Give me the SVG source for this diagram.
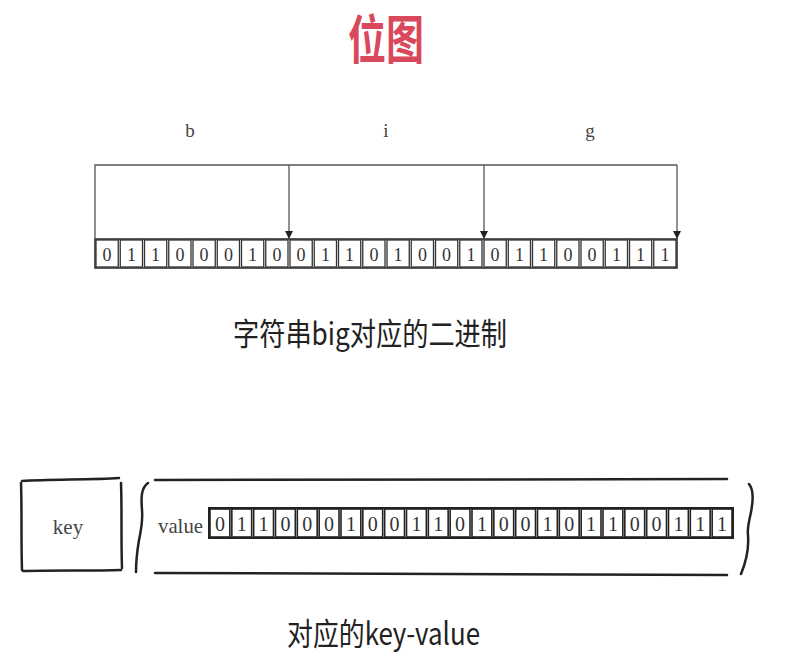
<svg xmlns="http://www.w3.org/2000/svg" width="790" height="669" viewBox="0 0 790 669">
<style>
.title{font-family:"Noto Sans CJK SC","Noto Sans",sans-serif;font-weight:700;fill:#d9485c}
.cap{font-family:"Noto Sans CJK SC","Noto Sans",sans-serif;fill:#222}
.lbl{font-family:"Liberation Serif",serif;fill:#444}
.bit{font-family:"Liberation Serif",serif;fill:#333;text-anchor:middle}
.cell{fill:#fff;stroke:#333;stroke-width:1.3}
.cellb{fill:#fff;stroke:#222;stroke-width:1.6}
.conn{fill:none;stroke:#555;stroke-width:1.3}
.hand{fill:none;stroke:#222;stroke-width:2.5;stroke-linecap:round;stroke-linejoin:round}
</style>
<defs>
<marker id="arr" viewBox="0 0 10 10" refX="10" refY="5" markerWidth="10" markerHeight="8" orient="auto" markerUnits="userSpaceOnUse">
<path d="M0,0 L10,5 L0,10 z" fill="#222"/>
</marker>
<rect id="c1" class="cell" x="1" y="1" width="22.25" height="27"/>
<rect id="c2" class="cellb" x="1" y="1" width="19.83" height="28"/>
</defs>
<rect width="790" height="669" fill="#fff"/>

<g id="title"><text class="title" x="386" y="59" font-size="52" text-anchor="middle" textLength="76" lengthAdjust="spacingAndGlyphs">位图</text></g>

<g id="char-labels">
<text class="lbl" x="190" y="137" font-size="19" text-anchor="middle">b</text>
<text class="lbl" x="386" y="137" font-size="19" text-anchor="middle">i</text>
<text class="lbl" x="590" y="137" font-size="19" text-anchor="middle">g</text>
</g>

<g id="bits-top">
<rect x="95" y="239" width="582" height="29" fill="none" stroke="#333" stroke-width="1.6"/>
<use href="#c1" x="95" y="239"/><use href="#c1" x="119.25" y="239"/><use href="#c1" x="143.5" y="239"/><use href="#c1" x="167.75" y="239"/>
<use href="#c1" x="192" y="239"/><use href="#c1" x="216.25" y="239"/><use href="#c1" x="240.5" y="239"/><use href="#c1" x="264.75" y="239"/>
<use href="#c1" x="289" y="239"/><use href="#c1" x="313.25" y="239"/><use href="#c1" x="337.5" y="239"/><use href="#c1" x="361.75" y="239"/>
<use href="#c1" x="386" y="239"/><use href="#c1" x="410.25" y="239"/><use href="#c1" x="434.5" y="239"/><use href="#c1" x="458.75" y="239"/>
<use href="#c1" x="483" y="239"/><use href="#c1" x="507.25" y="239"/><use href="#c1" x="531.5" y="239"/><use href="#c1" x="555.75" y="239"/>
<use href="#c1" x="580" y="239"/><use href="#c1" x="604.25" y="239"/><use href="#c1" x="628.5" y="239"/><use href="#c1" x="652.75" y="239"/>
<text class="bit" font-size="18" y="261" x="107.1 131.4 155.6 179.9 204.1 228.4 252.6 276.9 301.1 325.4 349.6 373.9 398.1 422.4 446.6 470.9 495.1 519.4 543.6 567.9 592.1 616.4 640.6 664.9">011000100110100101100111</text>
</g>

<g id="connectors">
<path class="conn" d="M95,239 L95,165 L677,165"/>
<path class="conn" d="M289,165 L289,239" marker-end="url(#arr)"/>
<path class="conn" d="M484,165 L484,239" marker-end="url(#arr)"/>
<path class="conn" d="M677,165 L677,239" marker-end="url(#arr)"/>
</g>

<g id="caption-binary"><text class="cap" x="233" y="345" font-size="31" textLength="274" lengthAdjust="spacingAndGlyphs">字符串big对应的二进制</text></g>

<g id="key">
<path class="hand" d="M22,481 C50,479 90,480 119,478"/>
<path class="hand" d="M121,483 C122,510 121,540 122,568"/>
<path class="hand" d="M23,571 C55,570 90,571 121,570"/>
<path class="hand" d="M21,483 C22,510 21,540 22,570"/>
<text class="lbl" x="68" y="534" font-size="21" text-anchor="middle" fill="#333">key</text>
</g>

<g id="value">
<path class="hand" d="M148,483 C141,488 141,498 142,510 C143,522 141,530 139,540 C137,552 136,562 136,572"/>
<path class="hand" d="M749,484 C754,490 753,502 751,512 C749,522 747,528 748,535 C749,548 746,562 741,574"/>
<path class="hand" d="M155,480 L727,479" stroke-width="3"/>
<path class="hand" d="M155,573 L727,575" stroke-width="3"/>
<text class="lbl" x="158" y="533" font-size="21" fill="#333" textLength="45" lengthAdjust="spacingAndGlyphs">value</text>
<rect x="209" y="508" width="524" height="30" fill="none" stroke="#222" stroke-width="2"/>
<use href="#c2" x="209" y="508"/><use href="#c2" x="230.83" y="508"/><use href="#c2" x="252.67" y="508"/><use href="#c2" x="274.5" y="508"/>
<use href="#c2" x="296.33" y="508"/><use href="#c2" x="318.17" y="508"/><use href="#c2" x="340" y="508"/><use href="#c2" x="361.83" y="508"/>
<use href="#c2" x="383.67" y="508"/><use href="#c2" x="405.5" y="508"/><use href="#c2" x="427.33" y="508"/><use href="#c2" x="449.17" y="508"/>
<use href="#c2" x="471" y="508"/><use href="#c2" x="492.83" y="508"/><use href="#c2" x="514.67" y="508"/><use href="#c2" x="536.5" y="508"/>
<use href="#c2" x="558.33" y="508"/><use href="#c2" x="580.17" y="508"/><use href="#c2" x="602" y="508"/><use href="#c2" x="623.83" y="508"/>
<use href="#c2" x="645.67" y="508"/><use href="#c2" x="667.5" y="508"/><use href="#c2" x="689.33" y="508"/><use href="#c2" x="711.17" y="508"/>
<text class="bit" font-size="20" y="531" x="219.9 241.8 263.6 285.4 307.3 329.1 350.9 372.8 394.6 416.4 438.3 460.1 481.9 503.8 525.6 547.4 569.3 591.1 612.9 634.8 656.6 678.4 700.3 722.1">011000100110100101100111</text>
</g>

<g id="caption-kv"><text class="cap" x="287" y="645" font-size="31" textLength="193" lengthAdjust="spacingAndGlyphs">对应的key-value</text></g>
</svg>
